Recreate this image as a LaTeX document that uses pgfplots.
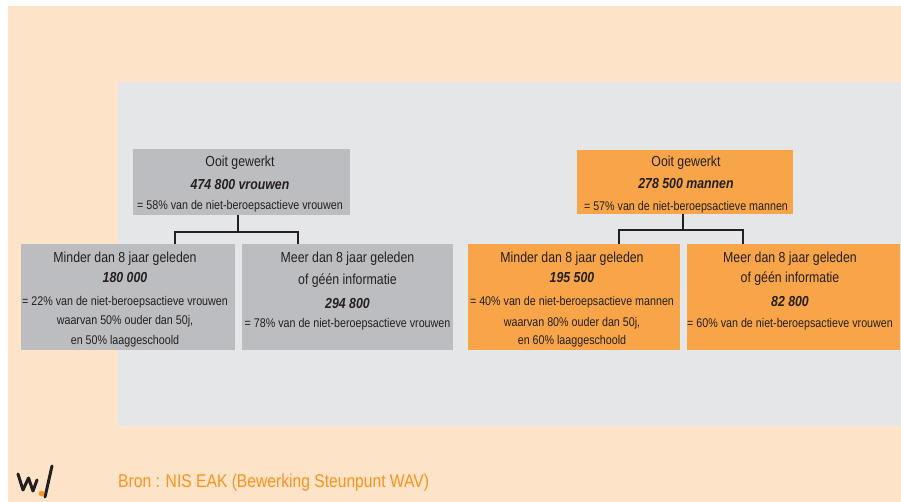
\documentclass[border=0pt]{standalone}
\usepackage{fontspec}
\setmainfont{Liberation Sans}[FakeStretch=0.85]
\usepackage{pgfplots}
\pgfplotsset{compat=1.18}
\definecolor{peach}{HTML}{FDE3C8}
\definecolor{panel}{HTML}{E5E6E8}
\definecolor{graybox}{HTML}{BCBDC0}
\definecolor{orangebox}{HTML}{F8A54A}
\definecolor{ink}{HTML}{231F20}
\definecolor{srcorange}{HTML}{F7941D}
\begin{document}
\begin{tikzpicture}[
  bigt/.style={font=\fontsize{14.5}{16}\selectfont, text=ink, anchor=base, inner sep=0pt},
  smallt/.style={font=\fontsize{12.6}{14}\selectfont, text=ink, anchor=base, inner sep=0pt}]
\begin{axis}[width=901pt, height=502pt, scale only axis,
  xmin=0, xmax=901, ymin=0, ymax=502, y dir=reverse,
  hide axis, clip=false]
% backgrounds
\addplot[fill=white, draw=none] coordinates {(0,0)(901,0)(901,502)(0,502)};
\addplot[fill=peach, draw=none] coordinates {(8,6)(901,6)(901,502)(8,502)};
\addplot[fill=panel, draw=none] coordinates {(118,82)(901,82)(901,426)(118,426)};
% boxes women
\addplot[fill=graybox, draw=none] coordinates {(133,149)(350,149)(350,215)(133,215)};
\addplot[fill=graybox, draw=none] coordinates {(21,244)(235,244)(235,350)(21,350)};
\addplot[fill=graybox, draw=none] coordinates {(242,244)(453,244)(453,350)(242,350)};
% boxes men
\addplot[fill=orangebox, draw=none] coordinates {(577,150)(793,150)(793,214)(577,214)};
\addplot[fill=orangebox, draw=none] coordinates {(468,244)(680,244)(680,350)(468,350)};
\addplot[fill=orangebox, draw=none] coordinates {(687,244)(900,244)(900,350)(687,350)};
% connectors
\addplot[ink, line width=2pt] coordinates {(238,215)(238,232)};
\addplot[ink, line width=2pt] coordinates {(175,244)(175,232)(298,232)(298,244)};
\addplot[ink, line width=2pt] coordinates {(683,214)(683,230)};
\addplot[ink, line width=2pt] coordinates {(619,244)(619,230)(743,230)(743,244)};
% women texts
\node[bigt] at (axis cs:240,167) {Ooit gewerkt};
\node[bigt] at (axis cs:240,190) {\textbf{\textit{474 800 vrouwen}}};
\node[smallt] at (axis cs:240,210) {= 58\% van de niet-beroepsactieve vrouwen};
\node[bigt] at (axis cs:125,263) {Minder dan 8 jaar geleden};
\node[bigt] at (axis cs:125,283) {\textbf{\textit{180 000}}};
\node[smallt] at (axis cs:125,305.5) {= 22\% van de niet-beroepsactieve vrouwen};
\node[smallt] at (axis cs:125,324.5) {waarvan 50\% ouder dan 50j,};
\node[smallt] at (axis cs:125,344.5) {en 50\% laaggeschoold};
\node[bigt] at (axis cs:347.5,263) {Meer dan 8 jaar geleden};
\node[bigt] at (axis cs:347.5,284) {of géén informatie};
\node[bigt] at (axis cs:347.5,308) {\textbf{\textit{294 800}}};
\node[smallt] at (axis cs:347.5,327.5) {= 78\% van de niet-beroepsactieve vrouwen};
% men texts
\node[bigt] at (axis cs:686,167) {Ooit gewerkt};
\node[bigt] at (axis cs:686,189) {\textbf{\textit{278 500 mannen}}};
\node[smallt] at (axis cs:686,211) {= 57\% van de niet-beroepsactieve mannen};
\node[bigt] at (axis cs:572,263) {Minder dan 8 jaar geleden};
\node[bigt] at (axis cs:572,283) {\textbf{\textit{195 500}}};
\node[smallt] at (axis cs:572,305.5) {= 40\% van de niet-beroepsactieve mannen};
\node[smallt] at (axis cs:572,326) {waarvan 80\% ouder dan 50j,};
\node[smallt] at (axis cs:572,344.5) {en 60\% laaggeschoold};
\node[bigt] at (axis cs:790,263) {Meer dan 8 jaar geleden};
\node[bigt] at (axis cs:790,283) {of géén informatie};
\node[bigt] at (axis cs:790,306) {\textbf{\textit{82 800}}};
\node[smallt] at (axis cs:790,327.5) {= 60\% van de niet-beroepsactieve vrouwen};
% logo
\addplot[ink, line width=3pt, line join=round, line cap=round] coordinates {(18,474)(23,490)(28.5,478)(33,491)(37,480)};
\addplot[ink, line width=3pt, line cap=round] coordinates {(45,497)(52,466)};
\addplot[only marks, mark=*, mark size=2.6pt, color=srcorange] coordinates {(41.5,493.5)};
% source
\node[font=\fontsize{18.4}{20}\selectfont, text=srcorange, anchor=base west, inner sep=0pt] at (axis cs:118,487) {Bron : NIS EAK (Bewerking Steunpunt WAV)};
\end{axis}
\end{tikzpicture}
\end{document}
